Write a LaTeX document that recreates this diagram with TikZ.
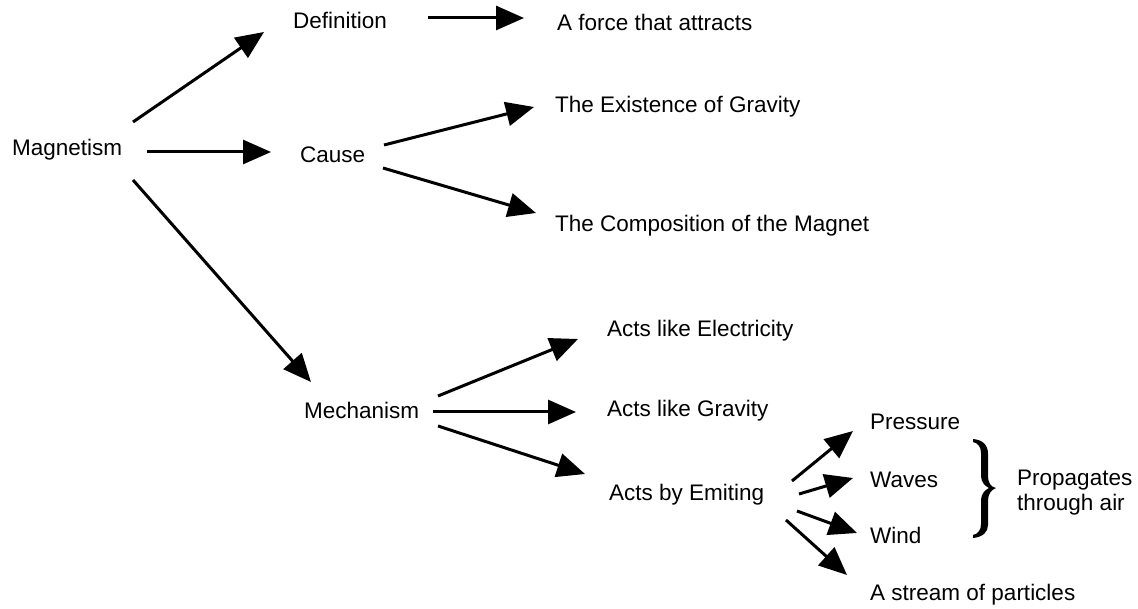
\documentclass[tikz,border=0pt]{standalone}
\usepackage{fontspec}
\setmainfont{Liberation Sans}
\usetikzlibrary{arrows.meta}
\tikzset{
  lbl/.style={anchor=base west, inner sep=0pt, font=\fontsize{22.5pt}{25pt}\selectfont},
  arr/.style={line width=3pt, -{Triangle[length=28pt,width=24pt]}},
}
\begin{document}
\begin{tikzpicture}[x=1pt,y=-1pt]
\useasboundingbox (0,0) rectangle (1138,609);
% nodes
\node[lbl] (mag) at (12,156) {Magnetism};
\node[lbl] (def) at (293,29) {Definition};
\node[lbl] (cause) at (300,163) {Cause};
\node[lbl] (force) at (557,31) {A force that attracts};
\node[lbl] (exist) at (555,113) {The Existence of Gravity};
\node[lbl] (comp) at (555,232) {The Composition of the Magnet};
\node[lbl] (mech) at (304,418) {Mechanism};
\node[lbl] (elec) at (607,337) {Acts like Electricity};
\node[lbl] (grav) at (607,417) {Acts like Gravity};
\node[lbl] (emit) at (609,500) {Acts by Emiting};
\node[lbl] (press) at (870,430) {Pressure};
\node[lbl] (waves) at (870,487) {Waves};
\node[lbl] (wind) at (870,543) {Wind};
\node[lbl] (stream) at (870,600) {A stream of particles};
\node[lbl, anchor=west, align=left] (prop) at (1017,493) {Propagates\\through air};
% connectors
\draw[arr] ([shift={(121,-34)}]mag.base west) -- ([shift={(-29,3)}]def.base west);
\draw[arr] ([shift={(135,-4)}]mag.base west) -- ([shift={(-29,-11)}]cause.base west);
\draw[arr] ([shift={(121,24)}]mag.base west) -- ([shift={(7,-36)}]mech.base west);
\draw[arr] ([shift={(135,-11)}]def.base west) -- ([shift={(-33,-13)}]force.base west);
\draw[arr] ([shift={(84,-18)}]cause.base west) -- ([shift={(-21,-6)}]exist.base west);
\draw[arr] ([shift={(83,5)}]cause.base west) -- ([shift={(-19,-19)}]comp.base west);
\draw[arr] ([shift={(134,-22)}]mech.base west) -- ([shift={(-29,2)}]elec.base west);
\draw[arr] ([shift={(129,-6)}]mech.base west) -- ([shift={(-31,-5)}]grav.base west);
\draw[arr] ([shift={(134,8)}]mech.base west) -- ([shift={(-24,-26)}]emit.base west);
\draw[arr] ([shift={(183,-19)}]emit.base west) -- ([shift={(-17,1)}]press.base west);
\draw[arr] ([shift={(190,-6)}]emit.base west) -- ([shift={(-17,-9)}]waves.base west);
\draw[arr] ([shift={(188,11)}]emit.base west) -- ([shift={(-13,-10)}]wind.base west);
\draw[arr] ([shift={(177,20)}]emit.base west) -- ([shift={(-23,-25)}]stream.base west);
% brace
\fill (973,439) .. controls (983,440) and (988,445) .. (988,454) -- (988,476)
  .. controls (988,483) and (991,487) .. (996,488)
  .. controls (991,490) and (988,494) .. (988,501) -- (988,525)
  .. controls (988,532) and (983,537) .. (973,538) -- (973,535)
  .. controls (978,534) and (981,530) .. (981,524) -- (981,500)
  .. controls (981,494) and (985,490) .. (989,488)
  .. controls (985,486) and (981,482) .. (981,476) -- (981,453)
  .. controls (981,447) and (978,443) .. (973,442) -- cycle;
\end{tikzpicture}
\end{document}
